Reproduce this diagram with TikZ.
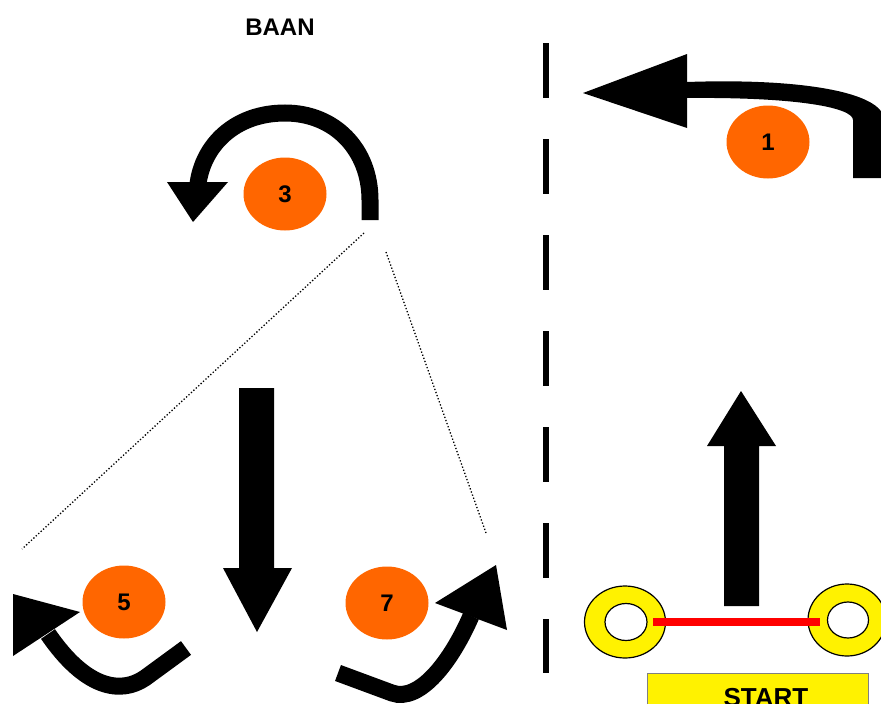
\documentclass[tikz,border=0pt]{standalone}
\usepackage{fontspec}
\setmainfont{Liberation Sans}
\usetikzlibrary{shapes.geometric}
\definecolor{pylon}{HTML}{FF6600}
\tikzset{pylon/.style={ellipse, fill=pylon, inner sep=0pt, minimum width=83pt, minimum height=73pt,
      font=\fontsize{24}{24}\bfseries\selectfont}}
\tikzset{shaft/.style={line width=17pt, line cap=butt}}
\tikzset{ring/.style={fill=yellow, draw=black, line width=1.2pt, even odd rule}}

\begin{document}
\begin{tikzpicture}[x=1pt, y=-1pt]
    \useasboundingbox (0,0) rectangle (881,704);
    \clip (0,0) rectangle (881,704);
    \node[font=\fontsize{24}{24}\bfseries\selectfont, anchor=base] (baan) at (280,35) {BAAN};
    \draw[line width=6pt, dash pattern=on 55pt off 41pt] (546,43) -- (546,673);
    % pylons
    \node[pylon] (p1) at (768,142) {1};
    \node[pylon] (p3) at (285,194) {3};
    \node[pylon] (p5) at (124,602) {5};
    \node[pylon] (p7) at (387,603) {7};
    % sight lines
    \draw[dotted, line width=1.3pt] (364,233) -- (22,549);
    \draw[dotted, line width=1.3pt] (386,252) -- (486,533);
    % turn at 1
    \fill (687,82) .. controls (800,78) and (884,92) .. (884,120) -- (884,178) -- (853,178)
      -- (853,120) .. controls (853,108) and (800,97) .. (687,98) -- cycle;
    \fill (687,54) -- (583,93) -- (687,128) -- cycle;
    % turn at 3
    \draw[shaft] (370,220) -- (370,200) .. controls (370,150) and (335,113) .. (285,113)
      .. controls (235,113) and (203,145) .. (198,184);
    \fill (167,182) -- (228,182) -- (193,222) -- cycle;
    % turn at 5
    \draw[shaft] (186,648) -- (145,678) .. controls (120,695) and (85,688) .. (48,634);
    \fill (13,594) -- (80,612) -- (13,656) -- cycle;
    % turn at 7
    \draw[shaft] (338,673) -- (392,693) .. controls (420,703) and (452,660) .. (471,616);
    \fill (435,603) -- (496,565) -- (507,630) -- cycle;
    % straights
    \fill (239,388) -- (274,388) -- (274,568) -- (292,568) -- (257,632) -- (223,568) -- (239,568) -- cycle;
    \fill (724,606) -- (759,606) -- (759,446) -- (776,446) -- (741,391) -- (707,446) -- (724,446) -- cycle;
    % start gate
    \path[ring] (625,622) ellipse[x radius=40.5, y radius=36] (626,622) ellipse[x radius=21, y radius=18.5];
    \path[ring] (847,620) ellipse[x radius=39, y radius=36] (848,620) ellipse[x radius=20.5, y radius=18];
    \draw[red, line width=8pt] (653,622) -- (820,622);
    \draw[fill=yellow, draw=gray, line width=1pt] (647,673) rectangle (868,730);
    \node[font=\fontsize{26}{26}\bfseries\selectfont, anchor=base] (start) at (766,706) {START};
\end{tikzpicture}
\end{document}
